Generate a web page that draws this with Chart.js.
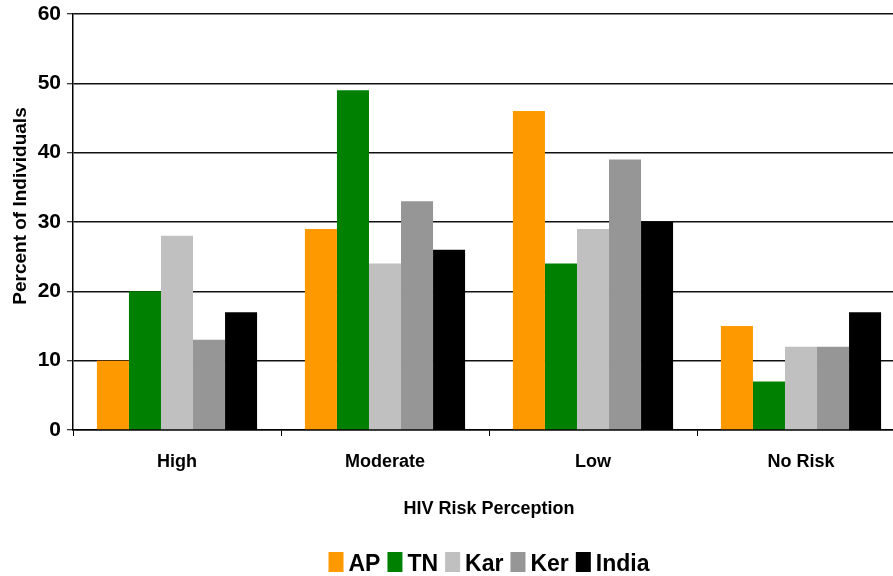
<!DOCTYPE html>
<html>
<head>
<meta charset="utf-8">
<script src="https://cdn.jsdelivr.net/npm/chart.js@4/dist/chart.umd.min.js"></script>
<style>
  html, body { margin: 0; padding: 0; background: #fff; overflow: hidden; }
  #wrap { width: 910px; height: 576px; position: relative; }
</style>
</head>
<body>
<div id="wrap"><canvas id="chart"></canvas></div>
<script>
// Risk perception categories and per-state percentages
const categories = ['High', 'Moderate', 'Low', 'No Risk'];
const seriesNames = ['AP', 'TN', 'Kar', 'Ker', 'India'];
const apValues = [10, 29, 46, 15];
const tnValues = [20, 49, 24, 7];
const karValues = [28, 24, 29, 12];
const kerValues = [13, 33, 39, 12];
const indiaValues = [17, 26, 30, 17];
const seriesColors = ['#FF9900', '#008000', '#C0C0C0', '#969696', '#000000'];
const yMin = 0, yMax = 60, yStep = 10;
const xTitle = 'HIV Risk Perception';
const yTitle = 'Percent of Individuals';

const FONT = "'Liberation Sans', Arial, sans-serif";
const seriesValues = [apValues, tnValues, karValues, kerValues, indiaValues];

// Axis titles and the legend row are painted after the chart
const extras = {
  id: 'extras',
  afterDraw(chart) {
    const ctx = chart.ctx;
    const area = chart.chartArea;
    const cx = (area.left + area.right) / 2;
    ctx.save();
    ctx.fillStyle = '#000';

    // y axis title
    ctx.save();
    ctx.translate(26, 206);
    ctx.rotate(-Math.PI / 2);
    ctx.font = 'bold 19px ' + FONT;
    ctx.textAlign = 'center';
    ctx.textBaseline = 'alphabetic';
    ctx.fillText(yTitle, 0, 0);
    ctx.restore();

    // x axis title
    ctx.font = 'bold 18px ' + FONT;
    ctx.textAlign = 'center';
    ctx.textBaseline = 'alphabetic';
    ctx.fillText(xTitle, cx, 514);

    // legend
    ctx.font = 'bold 23px ' + FONT;
    const boxW = 15, boxH = 20, gapText = 5, gapItem = 7;
    const items = chart.data.datasets.map(ds => ({
      label: ds.label, color: ds.backgroundColor,
      w: ctx.measureText(ds.label).width
    }));
    let total = 0;
    items.forEach((it, i) => {
      total += boxW + gapText + it.w + (i < items.length - 1 ? gapItem : 0);
    });
    let x = cx - total / 2;
    const boxTop = 552;
    ctx.textAlign = 'left';
    items.forEach(it => {
      ctx.fillStyle = it.color;
      ctx.fillRect(x, boxTop, boxW, boxH);
      ctx.fillStyle = '#000';
      ctx.fillText(it.label, x + boxW + gapText, boxTop + boxH - 1);
      x += boxW + gapText + it.w + gapItem;
    });
    ctx.restore();
  }
};

new Chart(document.getElementById('chart'), {
  type: 'bar',
  data: {
    labels: categories,
    datasets: seriesNames.map((name, i) => ({
      label: name,
      data: seriesValues[i],
      backgroundColor: seriesColors[i],
      borderWidth: 0,
      categoryPercentage: 0.77,
      barPercentage: 1.0
    }))
  },
  options: {
    responsive: true,
    maintainAspectRatio: false,
    animation: false,
    layout: { padding: { left: 0, top: 14, right: 5, bottom: 0 } },
    plugins: {
      legend: { display: false },
      tooltip: { enabled: false }
    },
    scales: {
      x: {
        grid: {
          offset: true,
          drawOnChartArea: false,
          drawTicks: true,
          tickLength: 6,
          tickColor: '#000',
          tickWidth: 1
        },
        border: { display: true, color: '#000', width: 1.5 },
        ticks: {
          color: '#000',
          font: { family: FONT, size: 18, weight: 'bold' },
          padding: 15,
          maxRotation: 0
        },
        afterFit(scale) {
          scale.height = 146;
          scale.paddingLeft = 0;
          scale.paddingRight = 0;
        }
      },
      y: {
        min: yMin,
        max: yMax,
        grid: {
          color: '#111',
          lineWidth: 1.5,
          drawTicks: true,
          tickLength: 6,
          tickColor: '#000',
          tickWidth: 1
        },
        border: { display: true, color: '#000', width: 1.5 },
        ticks: {
          stepSize: yStep,
          color: '#000',
          font: { family: FONT, size: 21, weight: 'bold' },
          padding: 6
        },
        afterFit(scale) {
          scale.width = 73;
          scale.paddingTop = 0;
          scale.paddingBottom = 0;
        }
      }
    }
  },
  plugins: [extras]
});
</script>
</body>
</html>
